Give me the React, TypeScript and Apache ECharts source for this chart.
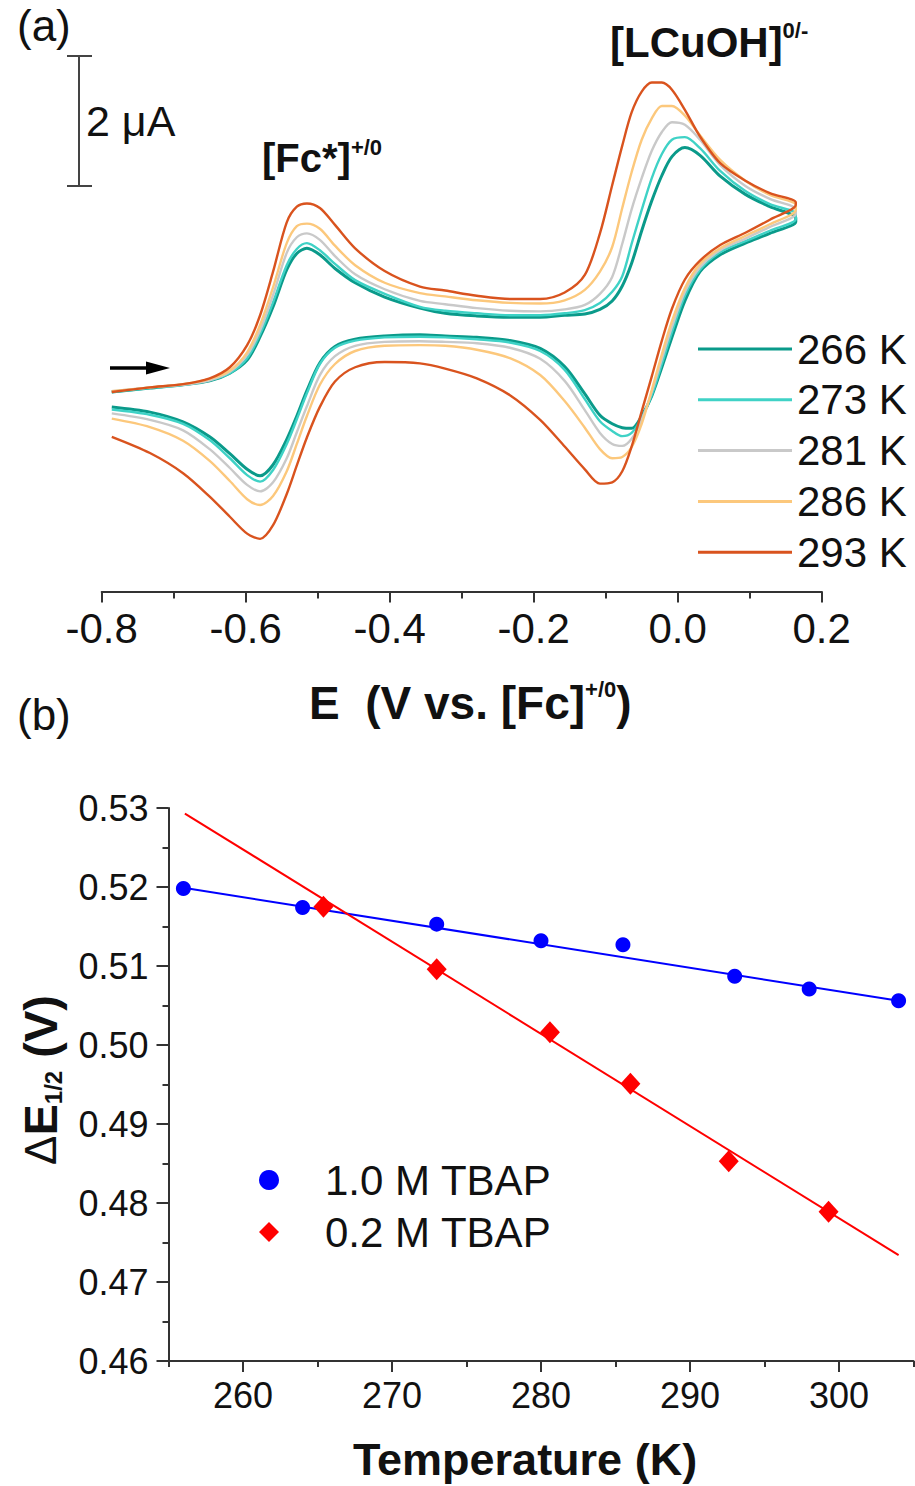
import React, { useEffect, useRef } from "react";
import * as echarts from "echarts";

// ---------- Panel (a): cyclic voltammograms ----------
// potential grid of the forward scan (V vs Fc+/0); reverse scan uses the same points in reverse order
const eFwd = [-0.786, -0.733, -0.687, -0.650, -0.622, -0.598, -0.580, -0.562, -0.543, -0.529, -0.515, -0.497, -0.476, -0.448, -0.407, -0.358, -0.323, -0.279, -0.233, -0.191, -0.157, -0.129, -0.108, -0.091, -0.077, -0.064, -0.050, -0.036, -0.022, -0.008, 0.010, 0.031, 0.059, 0.094, 0.128, 0.164];
const eRev = [...eFwd].reverse();

// currents in µA
const i266Fwd = [-0.83, -0.77, -0.72, -0.66, -0.54, -0.34, 0.02, 0.48, 1.05, 1.30, 1.38, 1.28, 1.07, 0.85, 0.63, 0.46, 0.38, 0.34, 0.32, 0.32, 0.35, 0.37, 0.44, 0.57, 0.80, 1.15, 1.65, 2.11, 2.50, 2.79, 2.93, 2.81, 2.49, 2.21, 2.02, 1.85];
const i266Rev = [1.79, 1.61, 1.46, 1.28, 1.02, 0.57, 0.01, -0.45, -0.89, -1.20, -1.39, -1.38, -1.32, -1.19, -0.86, -0.44, -0.16, -0.04, 0.01, 0.03, 0.05, 0.03, -0.02, -0.13, -0.38, -0.81, -1.20, -1.56, -1.95, -2.12, -2.02, -1.78, -1.52, -1.29, -1.14, -1.06];
const i273Fwd = [-0.83, -0.77, -0.72, -0.65, -0.54, -0.31, 0.06, 0.55, 1.12, 1.37, 1.46, 1.35, 1.14, 0.89, 0.68, 0.48, 0.42, 0.38, 0.35, 0.35, 0.38, 0.43, 0.54, 0.71, 0.95, 1.45, 1.97, 2.46, 2.83, 3.05, 3.09, 2.92, 2.57, 2.26, 2.06, 1.91];
const i273Rev = [1.83, 1.65, 1.49, 1.32, 1.05, 0.65, 0.09, -0.40, -0.88, -1.23, -1.46, -1.51, -1.43, -1.28, -0.94, -0.49, -0.20, -0.07, -0.02, 0.01, 0.02, 0.01, -0.04, -0.15, -0.40, -0.85, -1.25, -1.63, -2.03, -2.21, -2.11, -1.85, -1.57, -1.32, -1.18, -1.10];
const i281Fwd = [-0.82, -0.76, -0.72, -0.65, -0.52, -0.26, 0.12, 0.66, 1.31, 1.55, 1.61, 1.51, 1.26, 0.98, 0.75, 0.57, 0.52, 0.46, 0.42, 0.41, 0.44, 0.51, 0.68, 0.94, 1.45, 1.98, 2.46, 2.88, 3.17, 3.32, 3.28, 3.05, 2.66, 2.34, 2.14, 1.98];
const i281Rev = [1.91, 1.71, 1.53, 1.35, 1.09, 0.71, 0.17, -0.32, -0.83, -1.26, -1.55, -1.66, -1.63, -1.46, -1.11, -0.66, -0.32, -0.15, -0.08, -0.06, -0.05, -0.06, -0.12, -0.28, -0.57, -1.05, -1.45, -1.85, -2.22, -2.36, -2.26, -2.00, -1.71, -1.42, -1.26, -1.16];
const i286Fwd = [-0.82, -0.76, -0.71, -0.63, -0.50, -0.22, 0.20, 0.78, 1.46, 1.72, 1.76, 1.68, 1.42, 1.12, 0.85, 0.69, 0.64, 0.58, 0.54, 0.53, 0.58, 0.74, 1.02, 1.40, 2.00, 2.55, 3.05, 3.38, 3.57, 3.57, 3.42, 3.12, 2.74, 2.42, 2.20, 2.05];
const i286Rev = [1.97, 1.75, 1.57, 1.38, 1.14, 0.77, 0.26, -0.25, -0.80, -1.32, -1.68, -1.83, -1.85, -1.71, -1.38, -0.97, -0.57, -0.31, -0.18, -0.12, -0.11, -0.12, -0.20, -0.40, -0.72, -1.20, -1.63, -2.05, -2.43, -2.57, -2.48, -2.20, -1.89, -1.58, -1.37, -1.24];
const i293Fwd = [-0.83, -0.76, -0.71, -0.62, -0.45, -0.11, 0.35, 1.02, 1.78, 2.02, 2.07, 2.00, 1.74, 1.38, 1.03, 0.79, 0.73, 0.65, 0.60, 0.60, 0.70, 0.97, 1.61, 2.35, 2.96, 3.47, 3.79, 3.93, 3.93, 3.82, 3.51, 3.10, 2.69, 2.42, 2.23, 2.09];
const i293Rev = [2.05, 1.82, 1.62, 1.43, 1.19, 0.90, 0.45, -0.04, -0.59, -1.13, -1.67, -2.05, -2.22, -2.24, -2.02, -1.67, -1.26, -0.88, -0.62, -0.47, -0.39, -0.37, -0.45, -0.67, -1.06, -1.53, -1.96, -2.40, -2.88, -3.09, -3.01, -2.75, -2.44, -2.08, -1.77, -1.52];

const cvNames = ["266 K", "273 K", "281 K", "286 K", "293 K"];
const cvColors = ["#0a9a8a", "#3fd2c6", "#c9c9c9", "#fcc87c", "#d9531e"];
const cvWidths = [3, 2.4, 2.4, 2.4, 2.4];
const cvFwd = [i266Fwd, i273Fwd, i281Fwd, i286Fwd, i293Fwd];
const cvRev = [i266Rev, i273Rev, i281Rev, i286Rev, i293Rev];

// ---------- Panel (b): ΔE1/2 vs temperature ----------
const tempHigh = [256, 264, 273, 280, 285.5, 293, 298, 304];
const dE12High = [0.5198, 0.5174, 0.5153, 0.5132, 0.5127, 0.5087, 0.5071, 0.5056];
const tempLow = [265.4, 273, 280.6, 286, 292.6, 299.3];
const dE12Low = [0.5175, 0.5096, 0.5016, 0.4951, 0.4853, 0.4789];
const fitHighT = [256, 304];
const fitHighV = [0.5199, 0.5056];
const fitLowT = [256.1, 304];
const fitLowV = [0.5293, 0.4734];
const tempLabels = [260, 270, 280, 290, 300];
const tempMinor = [255, 265, 275, 285, 295, 305];

const FONT = "'Liberation Sans', Arial, Helvetica, sans-serif";
const INK = "#111";
const AXIS = "#333";

function zip(a: number[], b: number[]) {
  return a.map((v, k) => [v, b[k]]);
}

export default function App() {
  const ref = useRef<HTMLDivElement>(null);
  useEffect(() => {
    if (!ref.current) return;
    const chart = echarts.init(ref.current, null, { renderer: "svg" });

    const cvSeries = cvNames.map((name, k) => ({
      name,
      type: "line",
      xAxisIndex: 0,
      yAxisIndex: 0,
      data: zip(eFwd.concat(eRev), cvFwd[k].concat(cvRev[k])),
      showSymbol: false,
      smooth: 0.3,
      lineStyle: { color: cvColors[k], width: cvWidths[k] },
      itemStyle: { color: cvColors[k] },
      z: 2 + k,
    }));

    const option: any = {
      animation: false,
      backgroundColor: "#fff",
      textStyle: { fontFamily: FONT },
      grid: [
        { left: 101.7, right: 93.3, top: 52, bottom: 894.5 },
        { left: 168.5, right: 1.5, top: 808, bottom: 125 },
      ],
      xAxis: [
        {
          gridIndex: 0,
          type: "value",
          position: "bottom",
          min: -0.8,
          max: 0.2,
          interval: 0.2,
          axisLine: { onZero: false, lineStyle: { color: AXIS, width: 2 } },
          axisTick: { length: 11, lineStyle: { color: AXIS, width: 2 } },
          minorTick: { show: true, splitNumber: 2, length: 7, lineStyle: { color: AXIS, width: 2 } },
          splitLine: { show: false },
          axisLabel: {
            fontSize: 42,
            color: INK,
            margin: 16,
            fontFamily: FONT,
            formatter: (v: number) => (Math.abs(v) < 1e-9 ? "0.0" : v.toFixed(1)),
          },
        },
        {
          gridIndex: 1,
          type: "value",
          position: "bottom",
          min: 255,
          max: 305,
          axisLine: { onZero: false, lineStyle: { color: AXIS, width: 2 } },
          axisTick: { length: 11, customValues: tempLabels, lineStyle: { color: AXIS, width: 2 } },
          splitLine: { show: false },
          axisLabel: {
            customValues: tempLabels,
            fontSize: 36,
            color: INK,
            margin: 16,
            fontFamily: FONT,
          },
        },
        {
          gridIndex: 1,
          type: "value",
          position: "bottom",
          offset: 0,
          min: 255,
          max: 305,
          axisLine: { show: false, onZero: false },
          axisTick: { length: 6, customValues: tempMinor, lineStyle: { color: AXIS, width: 2 } },
          splitLine: { show: false },
          axisLabel: { show: false },
        },
      ],
      yAxis: [
        { gridIndex: 0, type: "value", min: -3.9, max: 4.4, show: false },
        {
          gridIndex: 1,
          type: "value",
          min: 0.46,
          max: 0.53,
          interval: 0.01,
          axisLine: { show: true, onZero: false, lineStyle: { color: AXIS, width: 2 } },
          axisTick: { show: true, length: 12, lineStyle: { color: AXIS, width: 2 } },
          minorTick: { show: true, splitNumber: 2, length: 6, lineStyle: { color: AXIS, width: 2 } },
          splitLine: { show: false },
          axisLabel: {
            fontSize: 36,
            color: INK,
            margin: 20,
            fontFamily: FONT,
            formatter: (v: number) => v.toFixed(2),
          },
        },
      ],
      legend: [
        {
          data: cvNames,
          orient: "vertical",
          left: 693,
          top: 323,
          itemWidth: 94,
          itemHeight: 3,
          itemGap: 8.8,
          icon: "rect",
          selectedMode: false,
          textStyle: { fontSize: 42, lineHeight: 42, color: INK, fontFamily: FONT, padding: [0, 0, 0, 0] },
        },
        {
          data: ["1.0 M TBAP", "0.2 M TBAP"],
          orient: "vertical",
          left: 254,
          top: 1154,
          itemWidth: 20,
          itemHeight: 20,
          itemGap: 10,
          selectedMode: false,
          textStyle: { fontSize: 42, lineHeight: 42, color: INK, fontFamily: FONT, padding: [0, 0, 0, 41] },
        },
      ],
      series: [
        ...cvSeries,
        {
          name: "fit 1.0 M",
          type: "line",
          xAxisIndex: 1,
          yAxisIndex: 1,
          data: zip(fitHighT, fitHighV),
          showSymbol: false,
          lineStyle: { color: "#0000ff", width: 2 },
          z: 3,
        },
        {
          name: "fit 0.2 M",
          type: "line",
          xAxisIndex: 1,
          yAxisIndex: 1,
          data: zip(fitLowT, fitLowV),
          showSymbol: false,
          lineStyle: { color: "#ff0000", width: 2 },
          z: 3,
        },
        {
          name: "1.0 M TBAP",
          type: "scatter",
          xAxisIndex: 1,
          yAxisIndex: 1,
          data: zip(tempHigh, dE12High),
          symbol: "circle",
          symbolSize: 15,
          itemStyle: { color: "#0000ff", opacity: 1 },
          z: 4,
        },
        {
          name: "0.2 M TBAP",
          type: "scatter",
          xAxisIndex: 1,
          yAxisIndex: 1,
          data: zip(tempLow, dE12Low),
          symbol: "diamond",
          symbolSize: [20, 22],
          itemStyle: { color: "#ff0000", opacity: 1 },
          z: 4,
        },
      ],
      graphic: [
        { type: "text", x: 17, y: 25, style: { text: "(a)", fontSize: 44, fontFamily: FONT, fill: INK, verticalAlign: "middle" } },
        { type: "text", x: 17, y: 714, style: { text: "(b)", fontSize: 44, fontFamily: FONT, fill: INK, verticalAlign: "middle" } },
        // scale bar (2 µA)
        { type: "line", shape: { x1: 79, y1: 56, x2: 79, y2: 186 }, style: { stroke: "#444", lineWidth: 2 } },
        { type: "line", shape: { x1: 67, y1: 56, x2: 92, y2: 56 }, style: { stroke: "#444", lineWidth: 2 } },
        { type: "line", shape: { x1: 67, y1: 186, x2: 92, y2: 186 }, style: { stroke: "#444", lineWidth: 2 } },
        { type: "text", x: 86, y: 121, style: { text: "2 μA", fontSize: 43, fontFamily: FONT, fill: INK, verticalAlign: "middle" } },
        // scan direction arrow
        { type: "line", shape: { x1: 110, y1: 368, x2: 150, y2: 368 }, style: { stroke: "#000", lineWidth: 3.5 } },
        { type: "polygon", shape: { points: [[146, 361.5], [170, 368], [146, 374.5]] }, style: { fill: "#000" } },
        // couple labels
        {
          type: "text",
          x: 262,
          y: 158,
          style: {
            text: "{m|[Fc*]}{s|+/0}",
            fill: INK,
            verticalAlign: "middle",
            rich: {
              m: { fontSize: 40, fontWeight: "bold", fontFamily: FONT, lineHeight: 44, fill: INK },
              s: { fontSize: 22, fontWeight: "bold", fontFamily: FONT, lineHeight: 22, verticalAlign: "top", fill: INK },
            },
          },
        },
        {
          type: "text",
          x: 610,
          y: 42,
          style: {
            text: "{m|[LCuOH]}{s|0/-}",
            fill: INK,
            verticalAlign: "middle",
            rich: {
              m: { fontSize: 42, fontWeight: "bold", fontFamily: FONT, lineHeight: 46, fill: INK },
              s: { fontSize: 22, fontWeight: "bold", fontFamily: FONT, lineHeight: 22, verticalAlign: "top", fill: INK },
            },
          },
        },
        // axis title (a)
        {
          type: "text",
          x: 309,
          y: 703,
          style: {
            text: "{m|E  (V vs. [Fc]}{s|+/0}{m|)}",
            fill: INK,
            verticalAlign: "middle",
            rich: {
              m: { fontSize: 46, fontWeight: "bold", fontFamily: FONT, lineHeight: 50, fill: INK },
              s: { fontSize: 22, fontWeight: "bold", fontFamily: FONT, lineHeight: 22, verticalAlign: "top", fill: INK },
            },
          },
        },
        // axis titles (b)
        {
          type: "text",
          x: 525,
          y: 1459,
          style: { text: "Temperature (K)", fontSize: 45, fontWeight: "bold", fontFamily: FONT, fill: INK, align: "center", verticalAlign: "middle" },
        },
        {
          type: "text",
          x: 40,
          y: 1080,
          rotation: Math.PI / 2,
          style: {
            text: "{d|Δ}{m|E}{s|1/2}{m| (V)}",
            fill: INK,
            align: "center",
            verticalAlign: "middle",
            rich: {
              d: { fontSize: 44, fontWeight: "normal", fontFamily: FONT, lineHeight: 50, fill: INK },
              m: { fontSize: 47, fontWeight: "bold", fontFamily: FONT, lineHeight: 50, fill: INK },
              s: { fontSize: 24, fontWeight: "bold", fontFamily: FONT, lineHeight: 24, verticalAlign: "bottom", fill: INK },
            },
          },
        },
      ],
    };
    chart.setOption(option);
    return () => chart.dispose();
  }, []);

  return (
    <div
      ref={ref}
      style={{ position: "absolute", left: 0, top: 0, width: 915, height: 1486, background: "#fff" }}
    />
  );
}
